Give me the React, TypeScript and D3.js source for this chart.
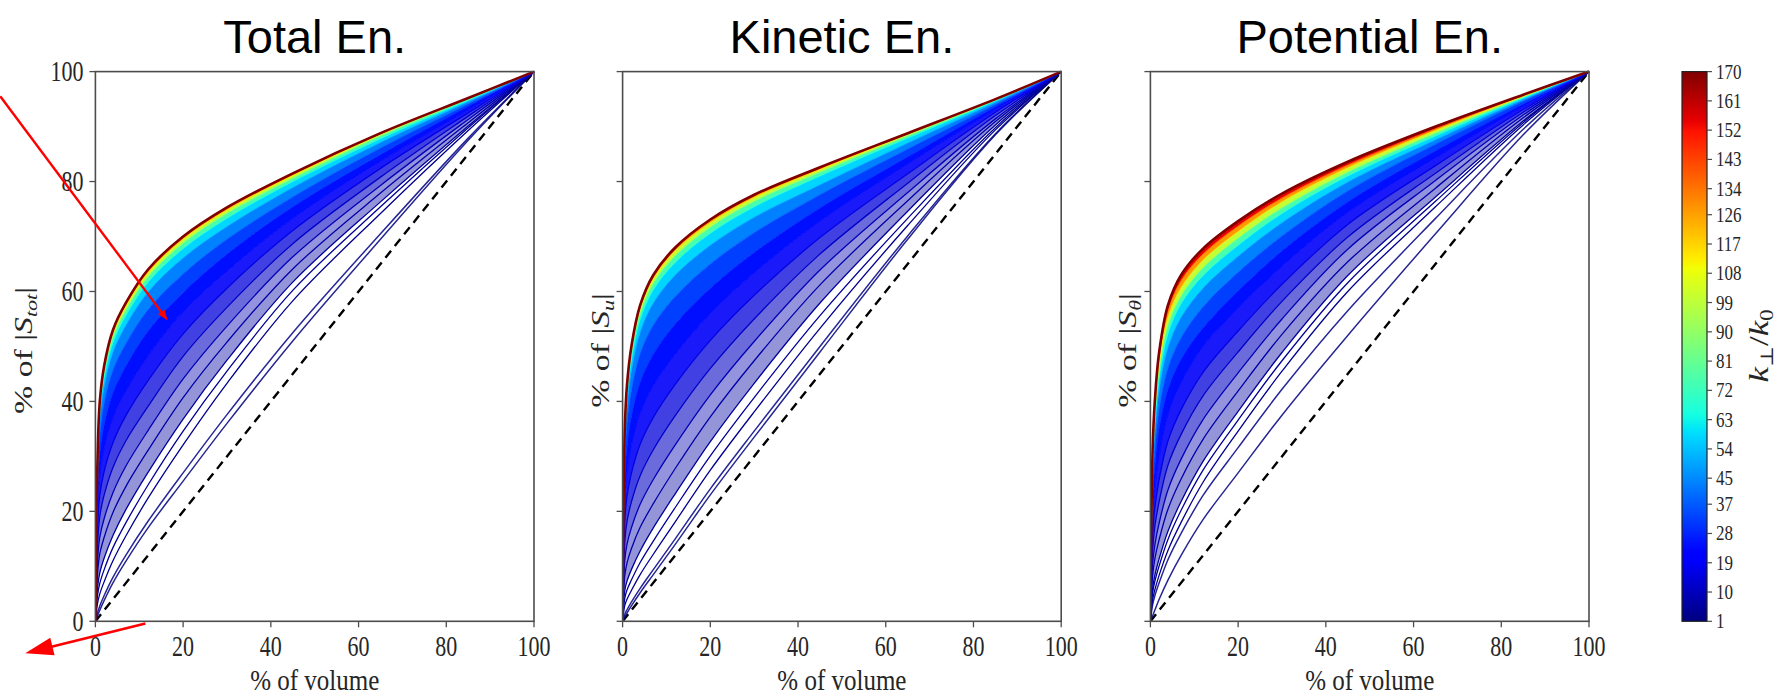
import React from 'react';
import * as d3 from 'd3';

// ---------------- data ----------------
// % of volume sample positions (shared by every curve)
const X_PCT = [0, 0.5, 1, 2, 4, 7, 12, 20, 30, 45, 65, 85, 100];
// k_perp/k_0 of each plotted curve (rows of the tables below)
const K_LEVELS = [1, 2, 3, 4, 5, 7, 9, 12, 16, 21, 28, 37, 50, 65, 85, 115, 140, 170];

// % of |S_tot| at X_PCT, one row per K_LEVELS entry
const TOTAL_CURVES = [
  [0, 1, 2, 3.8, 7, 11, 17, 25.5, 36, 51, 69.5, 87.5, 100],
  [0, 1.6, 2.8, 4.7, 8.0, 12.1, 18.2, 27.0, 37.6, 52.5, 70.5, 87.9, 100],
  [0, 3.3, 5.0, 7.2, 11.0, 15.6, 22.4, 32.1, 43.3, 58.3, 74.2, 89.3, 100],
  [0, 4.8, 6.9, 9.4, 13.4, 18.0, 24.8, 34.6, 45.5, 60.2, 75.4, 89.8, 100],
  [0, 6.2, 8.8, 11.5, 15.6, 20.4, 27.1, 36.8, 47.5, 61.7, 76.3, 90.1, 100],
  [0, 8.8, 12.3, 15.3, 19.8, 24.6, 31.1, 40.7, 50.8, 64.1, 77.9, 90.7, 100],
  [0, 11.2, 15.3, 18.7, 23.4, 28.3, 34.7, 44.1, 53.7, 66.3, 79.3, 91.3, 100],
  [0, 14.1, 19.1, 23.0, 28.0, 32.9, 39.1, 48.2, 57.1, 68.7, 80.8, 91.9, 100],
  [0, 17.0, 22.9, 27.3, 32.5, 37.5, 43.8, 52.3, 60.6, 71.1, 82.4, 92.5, 100],
  [0, 19.9, 26.7, 31.6, 37.1, 42.0, 48.3, 56.3, 63.7, 73.3, 83.7, 93.0, 100],
  [0, 22.8, 30.5, 35.8, 41.6, 46.5, 52.8, 59.8, 66.8, 75.4, 84.9, 93.7, 100],
  [0, 25.4, 33.9, 39.7, 45.7, 50.6, 56.7, 63.2, 69.5, 77.2, 86.1, 94.1, 100],
  [0, 27.4, 36.7, 42.7, 49.0, 53.9, 59.9, 66.1, 71.8, 78.9, 87.1, 94.5, 100],
  [0, 28.6, 38.1, 44.4, 50.7, 55.7, 61.7, 67.8, 73.3, 80.0, 87.8, 94.8, 100],
  [0, 29.2, 38.9, 45.3, 51.7, 56.7, 62.7, 68.8, 74.2, 80.6, 88.3, 95.0, 100],
  [0, 29.7, 39.5, 46.0, 52.4, 57.4, 63.4, 69.5, 74.8, 81.1, 88.6, 95.1, 100],
  [0, 29.9, 39.8, 46.3, 52.8, 57.8, 63.8, 69.8, 75.1, 81.3, 88.7, 95.2, 100],
  [0, 30, 40, 46.5, 53, 58, 64, 70, 75.3, 81.5, 88.8, 95.2, 100],
];

// % of |S_u| at X_PCT
const KINETIC_CURVES = [
  [0, 0.8, 1.5, 2.8, 5.2, 8.5, 14, 23, 33.5, 49, 69.5, 88.5, 100],
  [0, 1.3, 2.1, 3.5, 6.0, 9.4, 15.0, 24.1, 34.6, 50.0, 70.1, 88.7, 100],
  [0, 2.9, 4.0, 5.6, 8.5, 12.2, 18.1, 27.5, 38.1, 53.3, 72.0, 89.4, 100],
  [0, 4.2, 5.7, 7.5, 10.7, 14.6, 20.7, 30.1, 40.7, 55.6, 73.3, 89.8, 100],
  [0, 5.6, 7.3, 9.4, 12.8, 17.0, 23.2, 32.7, 43.3, 57.9, 74.6, 90.3, 100],
  [0, 8.3, 10.6, 13.2, 17.1, 21.4, 27.8, 37.2, 47.4, 61.2, 76.5, 90.9, 100],
  [0, 11.1, 14.0, 17.0, 21.3, 25.8, 32.1, 41.2, 50.9, 63.9, 78.0, 91.4, 100],
  [0, 14.5, 18.1, 21.7, 26.5, 31.2, 37.4, 46.0, 55.0, 66.8, 79.7, 92.0, 100],
  [0, 18.2, 22.7, 26.9, 32.2, 37.1, 43.1, 51.1, 59.3, 69.8, 81.4, 92.6, 100],
  [0, 22.0, 27.2, 32.1, 37.9, 42.9, 48.6, 56.0, 63.4, 72.8, 83.2, 93.1, 100],
  [0, 25.8, 31.8, 37.3, 43.5, 48.6, 54.1, 60.6, 67.1, 75.2, 84.5, 93.6, 100],
  [0, 29.2, 36.0, 42.0, 48.7, 53.9, 59.1, 65.0, 70.7, 77.6, 85.9, 94.0, 100],
  [0, 31.8, 39.1, 45.6, 52.6, 57.9, 63.0, 68.4, 73.5, 79.4, 87.0, 94.4, 100],
  [0, 33.3, 40.9, 47.6, 54.9, 60.3, 65.3, 70.6, 75.4, 81.0, 87.9, 94.7, 100],
  [0, 34.0, 41.8, 48.7, 56.0, 61.5, 66.5, 71.7, 76.4, 81.7, 88.3, 94.8, 100],
  [0, 34.6, 42.5, 49.4, 56.9, 62.3, 67.4, 72.5, 77.1, 82.2, 88.6, 94.9, 100],
  [0, 34.8, 42.8, 49.8, 57.2, 62.7, 67.7, 72.9, 77.4, 82.4, 88.7, 95.0, 100],
  [0, 35, 43, 50, 57.5, 63, 68, 73.1, 77.6, 82.6, 88.8, 95, 100],
];

// % of |S_theta| at X_PCT
const POTENTIAL_CURVES = [
  [0, 1, 2, 4, 7.5, 12, 18.5, 27, 37.5, 52, 70.5, 88.5, 100],
  [0, 3.0, 4.6, 7.0, 11.2, 16.0, 22.9, 31.6, 42.2, 56.5, 73.3, 89.5, 100],
  [0, 3.9, 5.7, 8.4, 12.9, 18.0, 25.3, 34.6, 45.5, 60.0, 75.4, 90.3, 100],
  [0, 5.1, 7.2, 10.1, 14.9, 20.2, 27.5, 36.6, 47.4, 61.6, 76.4, 90.7, 100],
  [0, 5.9, 8.3, 11.4, 16.4, 21.8, 29.1, 38.2, 48.9, 62.9, 77.2, 91.0, 100],
  [0, 8.3, 11.3, 14.9, 20.4, 25.9, 33.1, 41.9, 52.2, 65.4, 78.8, 91.6, 100],
  [0, 10.3, 13.8, 17.9, 23.9, 29.5, 36.7, 45.2, 55.0, 67.7, 80.2, 92.1, 100],
  [0, 12.9, 17.2, 21.8, 28.4, 34.0, 41.0, 49.0, 58.2, 69.9, 81.5, 92.6, 100],
  [0, 15.5, 20.5, 25.8, 32.8, 38.5, 45.3, 52.8, 61.3, 72.2, 82.9, 93.1, 100],
  [0, 18.4, 24.2, 30.1, 37.7, 43.5, 50.0, 56.9, 64.6, 74.4, 84.3, 93.6, 100],
  [0, 21.7, 28.2, 35.1, 42.2, 47.7, 53.4, 60.1, 67.4, 76.3, 85.6, 94.1, 100],
  [0, 24.1, 31.3, 38.7, 46.1, 51.6, 57.2, 63.5, 70.1, 78.3, 86.8, 94.6, 100],
  [0, 26.4, 34.2, 42.1, 49.8, 55.3, 60.6, 66.4, 72.5, 79.9, 87.6, 94.9, 100],
  [0, 27.9, 36.0, 44.3, 52.3, 57.8, 62.9, 68.4, 74.2, 81.0, 88.3, 95.2, 100],
  [0, 28.7, 37.1, 45.6, 53.8, 59.2, 64.3, 69.7, 75.2, 81.7, 88.8, 95.4, 100],
  [0, 29.7, 38.3, 46.9, 55.3, 60.7, 65.7, 70.9, 76.3, 82.5, 89.3, 95.5, 100],
  [0, 30.4, 39.3, 48.1, 56.5, 62.0, 66.8, 71.9, 77.0, 83.0, 89.6, 95.7, 100],
  [0, 31, 40, 49, 57.5, 63, 67.8, 72.8, 77.8, 83.6, 90, 95.8, 100],
];

const PANEL_TITLES = ['Total En.', 'Kinetic En.', 'Potential En.'];
const Y_LABEL_SUBSCRIPTS = ['tot', 'u', 'θ'];
const AXIS_TICKS = [0, 20, 40, 60, 80, 100];
const DIAGONAL = [[0, 0], [100, 100]];
const CB_TICKS = [1, 10, 19, 28, 37, 45, 54, 63, 72, 81, 90, 99, 108, 117, 126, 134, 143, 152, 161, 170];
const CB_DOMAIN = [1, 170];
// red annotation arrows, in data units of the first panel
const ARROW_TAILS = [[-21.7, 95.5], [11.4, -0.4]];
const ARROW_TIPS = [[16.5, 54.7], [-16.0, -5.8]];

// ---------------- layout ----------------
const W = 1781;
const H = 699;
const PANEL_LEFTS = [95.4, 622.6, 1150.4];
const PANEL_W = 438.6;
const PLOT_TOP = 71.6;
const PLOT_BOTTOM = 621.3;
const CB_X = 1682;
const CB_W = 25;
const SERIF = '"Liberation Serif", "DejaVu Serif", serif';
const SANS = '"Liberation Sans", Arial, sans-serif';
const AXIS_COLOR = '#4d4d4d';

// matplotlib "jet" colormap
const jetR = d3.scaleLinear<number>().domain([0, 0.35, 0.66, 0.89, 1]).range([0, 0, 1, 1, 0.5]).clamp(true);
const jetG = d3.scaleLinear<number>().domain([0, 0.125, 0.375, 0.64, 0.91, 1]).range([0, 0, 1, 1, 0, 0]).clamp(true);
const jetB = d3.scaleLinear<number>().domain([0, 0.11, 0.34, 0.65, 1]).range([0.5, 1, 1, 0, 0]).clamp(true);
const jet = (t: number) => d3.rgb(255 * jetR(t), 255 * jetG(t), 255 * jetB(t)).formatHex();
const kNorm = d3.scaleLinear().domain(CB_DOMAIN).range([0, 1]).clamp(true);

const bandOpacity = (kLo: number) =>
  kLo < 5 ? 0 : kLo < 9 ? 0.42 : kLo < 12 ? 0.58 : kLo < 16 ? 0.75 : kLo < 21 ? 0.9 : 1;

const CURVE = d3.curveCatmullRom.alpha(0.5);

function Arrow({ x, y, tail, tip, head, half, width }: any) {
  const x0 = x(tail[0]), y0 = y(tail[1]), x1 = x(tip[0]), y1 = y(tip[1]);
  const dx = x1 - x0, dy = y1 - y0;
  const len = Math.hypot(dx, dy);
  const ux = dx / len, uy = dy / len;
  const bx = x1 - ux * head, by = y1 - uy * head;
  const px = -uy, py = ux;
  const poly = `${x1},${y1} ${bx + px * half},${by + py * half} ${bx - px * half},${by - py * half}`;
  return (
    <g>
      <line x1={x0} y1={y0} x2={bx + ux * 2} y2={by + uy * 2} stroke="#ff0000" strokeWidth={width} />
      <polygon points={poly} fill="#ff0000" />
    </g>
  );
}

function Panel({ idx, curves }: { idx: number; curves: number[][] }) {
  const left = PANEL_LEFTS[idx];
  const x = d3.scaleLinear().domain([0, 100]).range([left, left + PANEL_W]);
  const y = d3.scaleLinear().domain([0, 100]).range([PLOT_BOTTOM, PLOT_TOP]);
  const line = d3
    .line<number>()
    .x((_, i) => x(X_PCT[i]))
    .y((v) => y(v))
    .curve(CURVE);
  const area = d3
    .area<number[]>()
    .x((_, i) => x(X_PCT[i]))
    .y0((d) => y(d[0]))
    .y1((d) => y(d[1]))
    .curve(CURVE);
  const clipId = `clip-${idx}`;
  const midY = (PLOT_TOP + PLOT_BOTTOM) / 2;
  const labelX = idx === 0 ? left - 63 : left - 14;

  const bands = [];
  for (let i = 0; i < K_LEVELS.length - 1; i++) {
    const kLo = K_LEVELS[i];
    const kHi = K_LEVELS[i + 1];
    const op = bandOpacity(kLo);
    if (i < 2 || op === 0) continue;
    const pairs = curves[i].map((v, j) => [v, curves[i + 1][j]]);
    bands.push(
      <path key={`b${i}`} d={area(pairs) || ''} fill={jet(kNorm((kLo + kHi) / 2))} fillOpacity={op} stroke="none" />
    );
  }

  return (
    <g>
      <defs>
        <clipPath id={clipId}>
          <rect x={left} y={PLOT_TOP - 2} width={PANEL_W + 2} height={PLOT_BOTTOM - PLOT_TOP + 2} />
        </clipPath>
      </defs>
      <text x={left + PANEL_W / 2} y={53} textAnchor="middle" fontFamily={SANS} fontSize={47} fill="#000">
        {PANEL_TITLES[idx]}
      </text>
      <g clipPath={`url(#${clipId})`}>
        {bands}
        <path
          d={d3.line()(DIAGONAL.map((p) => [x(p[0]), y(p[1])]) as [number, number][]) || ''}
          stroke="#000"
          strokeWidth={2.4}
          strokeDasharray="9,6"
          fill="none"
        />
        {curves.map((row, i) => {
          const k = K_LEVELS[i];
          const top = i === K_LEVELS.length - 1;
          const w = top ? 2.6 : k <= 2 ? 1.5 : k <= 16 ? 1.3 : 0.9;
          return (
            <path
              key={`l${i}`}
              d={line(row) || ''}
              fill="none"
              stroke={jet(kNorm(k))}
              strokeWidth={w}
              strokeOpacity={k <= 2 ? 0.85 : 1}
            />
          );
        })}
      </g>
      {/* frame */}
      <rect
        x={left}
        y={PLOT_TOP}
        width={PANEL_W}
        height={PLOT_BOTTOM - PLOT_TOP}
        fill="none"
        stroke={AXIS_COLOR}
        strokeWidth={1.6}
      />
      {/* x ticks */}
      {AXIS_TICKS.map((t) => (
        <g key={`xt${t}`}>
          <line x1={x(t)} x2={x(t)} y1={PLOT_BOTTOM} y2={PLOT_BOTTOM + 6} stroke={AXIS_COLOR} strokeWidth={1.3} />
          <text
            transform={`translate(${x(t)},${656}) scale(1,1.32)`}
            textAnchor="middle"
            fontFamily={SERIF}
            fontSize={22}
            fill="#262626"
          >
            {t}
          </text>
        </g>
      ))}
      {/* y ticks */}
      {AXIS_TICKS.map((t) => (
        <g key={`yt${t}`}>
          <line x1={left - 6} x2={left} y1={y(t)} y2={y(t)} stroke={AXIS_COLOR} strokeWidth={1.3} />
          {idx === 0 && (
            <text
              transform={`translate(${left - 12},${y(t) + 9.6}) scale(1,1.32)`}
              textAnchor="end"
              fontFamily={SERIF}
              fontSize={22}
              fill="#262626"
            >
              {t}
            </text>
          )}
        </g>
      ))}
      {/* axis labels */}
      <text
        transform={`translate(${left + PANEL_W / 2},${690}) scale(1,1.2)`}
        textAnchor="middle"
        fontFamily={SERIF}
        fontSize={25}
        fill="#262626"
      >
        % of volume
      </text>
      <text
        transform={`translate(${labelX},${midY + 4}) rotate(-90) scale(1.3,1)`}
        textAnchor="middle"
        fontFamily={SERIF}
        fontSize={26}
        fill="#262626"
      >
        % of |<tspan fontStyle="italic">S</tspan>
        <tspan fontStyle="italic" fontSize={17} dy={5}>
          {Y_LABEL_SUBSCRIPTS[idx]}
        </tspan>
        <tspan dy={-5}>|</tspan>
      </text>
      {idx === 0 &&
        ARROW_TAILS.map((tail, i) => (
          <Arrow
            key={`a${i}`}
            x={x}
            y={y}
            tail={tail}
            tip={ARROW_TIPS[i]}
            head={i === 0 ? 11 : 28}
            half={i === 0 ? 4 : 9}
            width={i === 0 ? 2.4 : 2.6}
          />
        ))}
    </g>
  );
}

function Colorbar() {
  const cy = d3.scaleLinear().domain(CB_DOMAIN).range([PLOT_BOTTOM, PLOT_TOP]);
  const stops = d3.range(0, 1.0001, 0.01);
  return (
    <g>
      <defs>
        <linearGradient id="jetGrad" x1="0" y1="1" x2="0" y2="0">
          {stops.map((t) => (
            <stop key={t} offset={t} stopColor={jet(t)} />
          ))}
        </linearGradient>
      </defs>
      <rect
        x={CB_X}
        y={PLOT_TOP}
        width={CB_W}
        height={PLOT_BOTTOM - PLOT_TOP}
        fill="url(#jetGrad)"
        stroke="#222"
        strokeWidth={1.2}
      />
      {CB_TICKS.map((t) => (
        <g key={t}>
          <line x1={CB_X + CB_W} x2={CB_X + CB_W + 5} y1={cy(t)} y2={cy(t)} stroke={AXIS_COLOR} strokeWidth={1.2} />
          <text
            transform={`translate(${CB_X + CB_W + 9},${cy(t) + 7}) scale(1,1.25)`}
            fontFamily={SERIF}
            fontSize={17}
            fill="#262626"
          >
            {t}
          </text>
        </g>
      ))}
      <text
        transform={`translate(${1768},${346}) rotate(-90) scale(1.25,1)`}
        textAnchor="middle"
        fontFamily={SERIF}
        fontSize={28}
        fill="#262626"
      >
        <tspan fontStyle="italic">k</tspan>
        <tspan fontSize={18} dy={5}>⊥</tspan>
        <tspan dy={-5}>/</tspan>
        <tspan fontStyle="italic">k</tspan>
        <tspan fontSize={18} dy={5}>0</tspan>
      </text>
    </g>
  );
}

export default function App() {
  const tables = [TOTAL_CURVES, KINETIC_CURVES, POTENTIAL_CURVES];
  return (
    <svg
      width={W}
      height={H}
      viewBox={`0 0 ${W} ${H}`}
      style={{ position: 'absolute', left: 0, top: 0, background: '#ffffff' }}
    >
      <rect x={0} y={0} width={W} height={H} fill="#ffffff" />
      {tables.map((c, i) => (
        <Panel key={i} idx={i} curves={c} />
      ))}
      <Colorbar />
    </svg>
  );
}
